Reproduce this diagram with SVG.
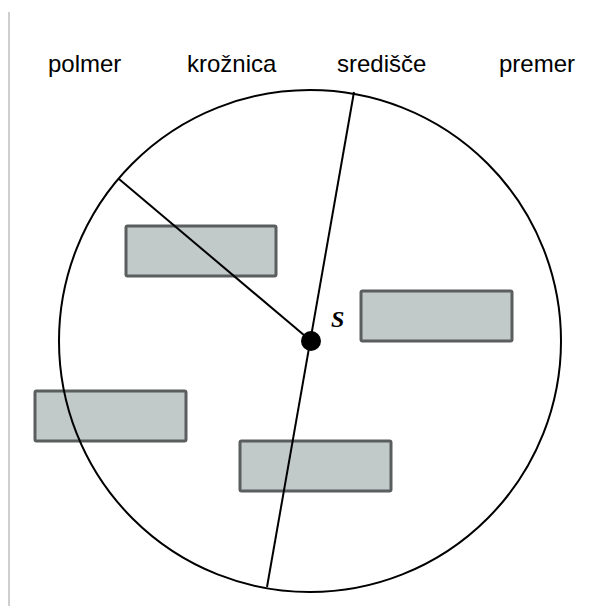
<svg xmlns="http://www.w3.org/2000/svg" width="603" height="606" viewBox="0 0 603 606">
<style>
.lbl{font-family:"Liberation Sans",Arial,sans-serif;font-size:24px;fill:#000}
.box{fill:#c1c9c9;stroke:#5a5e5e;stroke-width:3}
.ln{stroke:#000;stroke-width:2;fill:none}
</style>
<rect width="603" height="606" fill="#fff"/>
<line x1="9" y1="12" x2="9" y2="606" stroke="#cfcfcf" stroke-width="2"/>
<g id="labels">
<text class="lbl" x="48" y="72">polmer</text>
<text class="lbl" x="187" y="72">krožnica</text>
<text class="lbl" x="337" y="72">središče</text>
<text class="lbl" x="499" y="72">premer</text>
</g>
<g id="box1"><rect class="box" x="126" y="226" width="150" height="50" rx="1.5"/></g>
<g id="box2"><rect class="box" x="361" y="291" width="151" height="50" rx="1.5"/></g>
<g id="box3"><rect class="box" x="35" y="391" width="151" height="50" rx="1.5"/></g>
<g id="box4"><rect class="box" x="240" y="441" width="151" height="50" rx="1.5"/></g>
<g id="circle"><circle class="ln" cx="310" cy="341" r="251"/></g>
<g id="connectors">
<line class="ln" x1="354" y1="92" x2="267" y2="587"/>
<line class="ln" x1="119" y1="179" x2="311" y2="341"/>
</g>
<g id="center">
<circle cx="311" cy="341" r="10" fill="#000"/>
<text x="331" y="327" font-family="'Liberation Serif','Times New Roman',serif" font-style="italic" font-weight="bold" font-size="24" fill="#000">S</text>
</g>
</svg>
